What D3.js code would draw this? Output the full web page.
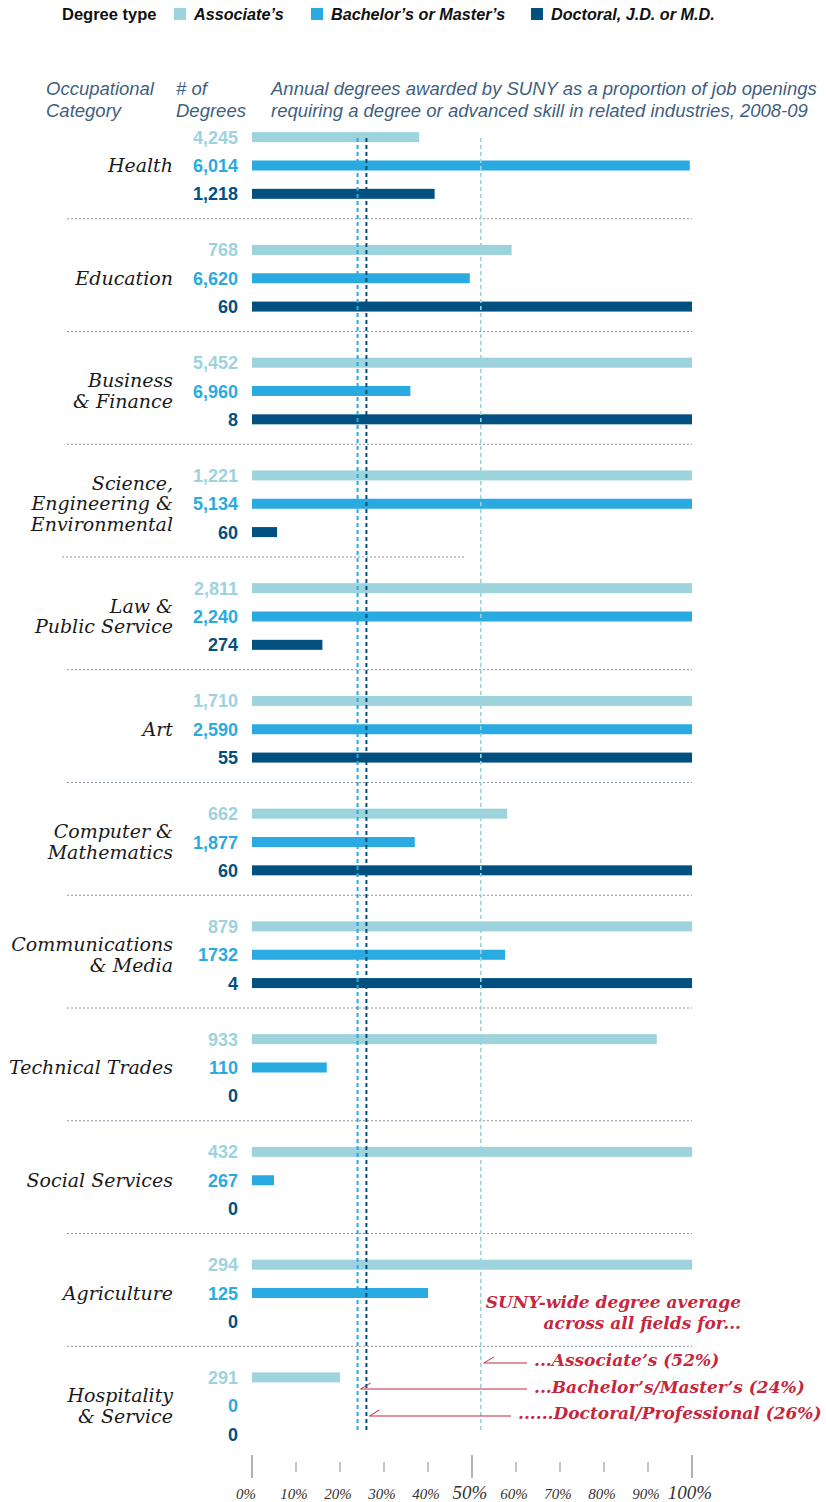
<!DOCTYPE html>
<html>
<head>
<meta charset="utf-8">
<script src="https://cdn.jsdelivr.net/npm/d3@7"></script>
<style>
  html, body { margin: 0; padding: 0; background: #fff; }
  svg { display: block; }
</style>
</head>
<body>
<script>
// Occupational categories (display lines split with "\n")
const categories = [
  "Health", "Education", "Business\n& Finance", "Science,\nEngineering &\nEnvironmental",
  "Law &\nPublic Service", "Art", "Computer &\nMathematics", "Communications\n& Media",
  "Technical Trades", "Social Services", "Agriculture", "Hospitality\n& Service"
];

const seriesNames = ["Associate’s", "Bachelor’s or Master’s", "Doctoral, J.D. or M.D."];
const seriesColors = ["#9dd3dd", "#29abe2", "#02507f"];

// Number of degrees awarded (as printed)
const assocDegrees = ["4,245", "768", "5,452", "1,221", "2,811", "1,710", "662", "879", "933", "432", "294", "291"];
const bachDegrees  = ["6,014", "6,620", "6,960", "5,134", "2,240", "2,590", "1,877", "1732", "110", "267", "125", "0"];
const docDegrees   = ["1,218", "60", "8", "60", "274", "55", "60", "4", "0", "0", "0", "0"];

// Degrees as a proportion of job openings (%), capped at 100
const assocPct = [38, 59, 100, 100, 100, 100, 58, 100, 92, 100, 100, 20];
const bachPct  = [99.5, 49.5, 36, 100, 100, 100, 37, 57.5, 17, 5, 40, 0];
const docPct   = [41.5, 100, 100, 5.7, 16, 100, 100, 100, 0, 0, 0, 0];

// SUNY-wide averages across all fields
const averagePct = [52, 24, 26];
const averageLabels = ["...Associate’s (52%)", "...Bachelor’s/Master’s (24%)", "......Doctoral/Professional (26%)"];

const tickValues = [0, 10, 20, 30, 40, 50, 60, 70, 80, 90, 100];

const W = 826, H = 1502;
const svg = d3.select("body").append("svg").attr("width", W).attr("height", H);

const x = d3.scaleLinear().domain([0, 100]).range([252, 692]);
const catIdx = d3.range(categories.length);
const y = d3.scaleBand().domain(catIdx).range([106, 1459]);
const yInner = d3.scaleBand().domain([0, 1, 2]).range([17, 102]);

const degrees = [assocDegrees, bachDegrees, docDegrees];
const pcts = [assocPct, bachPct, docPct];

const sans = "'Liberation Sans', Arial, sans-serif";
const serif = "'DejaVu Serif', Georgia, serif";

// Legend
const legend = svg.append("g");
legend.append("text").attr("x", 62).attr("y", 20)
  .style("font", `bold 16.5px ${sans}`).attr("fill", "#111").text("Degree type");
const legendX = [174, 311, 531];
seriesNames.forEach((n, i) => {
  legend.append("rect").attr("x", legendX[i]).attr("y", 8).attr("width", 12).attr("height", 12)
    .attr("fill", seriesColors[i]);
  legend.append("text").attr("x", legendX[i] + 20).attr("y", 20)
    .style("font", `italic bold 16.2px ${sans}`).attr("fill", "#111").text(n);
});

// Column headers
const headColor = "#3f5f7f";
const head = svg.append("g").style("font", `italic 18.5px ${sans}`).attr("fill", headColor);
head.append("text").attr("x", 46).attr("y", 95).text("Occupational");
head.append("text").attr("x", 46).attr("y", 117).text("Category");
head.append("text").attr("x", 176).attr("y", 95).text("# of");
head.append("text").attr("x", 176).attr("y", 117).text("Degrees");
head.append("text").attr("x", 271).attr("y", 95).text("Annual degrees awarded by SUNY as a proportion of job openings");
head.append("text").attr("x", 271).attr("y", 117).text("requiring a degree or advanced skill in related industries, 2008-09");

// Group separators
catIdx.slice(0, -1).forEach(i => {
  const yy = y(i) + y.bandwidth();
  const short = i === 3;
  svg.append("line")
    .attr("x1", short ? 62 : 67).attr("x2", short ? 465 : 692)
    .attr("y1", yy).attr("y2", yy)
    .attr("stroke", "#8a96a3").attr("stroke-width", 1).attr("stroke-dasharray", "2,2");
});

// Bars and degree counts
const groups = svg.selectAll("g.cat").data(catIdx).join("g").attr("class", "cat")
  .attr("transform", i => `translate(0,${y(i)})`);

[0, 1, 2].forEach(s => {
  groups.append("rect")
    .attr("x", x(0))
    .attr("y", i => yInner(s) + yInner.bandwidth() / 2 - 5)
    .attr("width", i => x(pcts[s][i]) - x(0))
    .attr("height", 10)
    .attr("fill", seriesColors[s]);
  groups.append("text")
    .attr("x", 238)
    .attr("y", i => yInner(s) + yInner.bandwidth() / 2 + 6.5)
    .attr("text-anchor", "end")
    .style("font", `bold 18px ${sans}`)
    .attr("fill", seriesColors[s])
    .text(i => degrees[s][i]);
});

// Category labels, centred on the middle bar
groups.each(function(i) {
  const lines = categories[i].split("\n");
  const cy = yInner(1) + yInner.bandwidth() / 2;
  const lh = 20.5;
  const t = d3.select(this).append("text")
    .attr("text-anchor", "end")
    .style("font", `italic 19px ${serif}`)
    .attr("fill", "#1a1a1a");
  lines.forEach((l, k) => {
    t.append("tspan").attr("x", 173)
      .attr("y", cy + 6.5 + (k - (lines.length - 1) / 2) * lh)
      .text(l);
  });
});

// Average reference lines
const avgColors = ["#9dd3dd", "#29abe2", "#02507f"];
averagePct.forEach((v, i) => {
  svg.append("line")
    .attr("x1", x(v)).attr("x2", x(v))
    .attr("y1", 138).attr("y2", 1431)
    .attr("stroke", avgColors[i]).attr("stroke-width", i === 0 ? 1.6 : 2)
    .attr("stroke-dasharray", "4,3");
});

// Annotation
const red = "#c5283d";
const ann = svg.append("g").style("font", `italic bold 17px ${serif}`).attr("fill", red);
ann.append("text").attr("x", 741).attr("y", 1308).attr("text-anchor", "end").text("SUNY-wide degree average");
ann.append("text").attr("x", 741).attr("y", 1329).attr("text-anchor", "end").text("across all fields for...");
const annY = [1366, 1393, 1419];
const annX = [534, 534, 518];
const arrowY = [1363, 1389, 1416];
averageLabels.forEach((t, i) => {
  ann.append("text").attr("x", annX[i]).attr("y", annY[i]).text(t);
  const x0 = x(averagePct[i]) + 3;
  svg.append("line").attr("x1", annX[i] - 7).attr("x2", x0)
    .attr("y1", arrowY[i]).attr("y2", arrowY[i])
    .attr("stroke", red).attr("stroke-width", 1.2);
  svg.append("line").attr("x1", x0).attr("x2", x0 + 10)
    .attr("y1", arrowY[i]).attr("y2", arrowY[i] - 6)
    .attr("stroke", red).attr("stroke-width", 1);
});

// Bottom axis
const major = v => v % 50 === 0;
const axis = svg.append("g");
axis.selectAll("line").data(tickValues).join("line")
  .attr("x1", d => x(d)).attr("x2", d => x(d))
  .attr("y1", d => major(d) ? 1455 : 1462)
  .attr("y2", d => major(d) ? 1478 : 1472)
  .attr("stroke", "#888").attr("stroke-width", d => major(d) ? 1.3 : 1);
axis.selectAll("text").data(tickValues).join("text")
  .attr("x", d => x(d) - (d === 0 ? 6 : 2))
  .attr("y", 1499)
  .attr("text-anchor", "middle")
  .style("font-family", "'Liberation Serif', 'Times New Roman', serif")
  .style("font-style", "italic")
  .style("font-size", d => major(d) && d > 0 ? "19px" : "15px")
  .attr("fill", "#333")
  .text(d => d + "%");
</script>
</body>
</html>
